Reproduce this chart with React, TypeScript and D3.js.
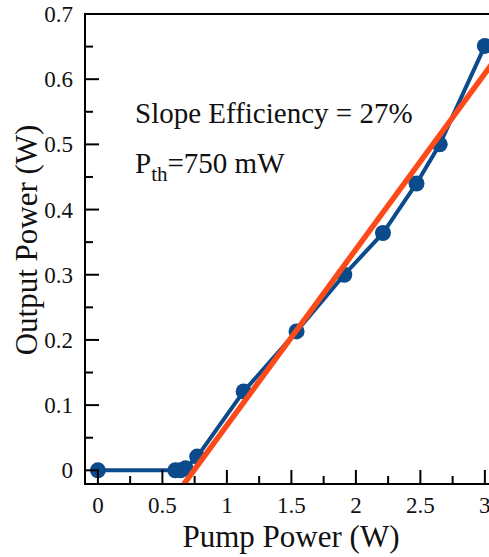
import React from "react";
import * as d3 from "d3";

const pumpPower = [0, 0.6, 0.64, 0.68, 0.77, 1.13, 1.54, 1.91, 2.21, 2.47, 2.65, 3.0];
const outputPower = [0, 0, 0, 0.003, 0.021, 0.121, 0.213, 0.3, 0.364, 0.44, 0.5, 0.651];
const fitSlope = 0.27;
const fitThreshold = 0.745;
const fitRange = [0.6, 3.2];
const xMajorTicks = [0, 0.5, 1, 1.5, 2, 2.5, 3];
const xTickLabels = ["0", "0.5", "1", "1.5", "2", "2.5", "3"];
const yMajorTicks = [0, 0.1, 0.2, 0.3, 0.4, 0.5, 0.6, 0.7];
const yTickLabels = ["0", "0.1", "0.2", "0.3", "0.4", "0.5", "0.6", "0.7"];

const W = 489;
const H = 557;
const left = 85;
const right = 489;
const top = 14;
const bottom = 484;
const FONT = "'Liberation Serif', 'Times New Roman', serif";
const BLUE = "#0b4a8b";
const ORANGE = "#fc4a1a";

export default function App() {
  const x = d3.scaleLinear().domain([-0.1, 3.032]).range([left, right]);
  const y = d3.scaleLinear().domain([-0.021, 0.7]).range([bottom, top]);
  const pts = pumpPower.map((p, i) => [p, outputPower[i]] as [number, number]);
  const line = d3
    .line<[number, number]>()
    .x((d) => x(d[0]))
    .y((d) => y(d[1]));
  const fitPts: [number, number][] = fitRange.map((p) => [p, fitSlope * (p - fitThreshold)]);
  const xMinor = d3.range(0, 3.01, 0.25).filter((v) => Math.abs(v * 2 - Math.round(v * 2)) > 1e-6);
  const yMinor = d3.range(0.05, 0.7, 0.1);

  return (
    <svg
      width={W}
      height={H}
      style={{ position: "absolute", left: 0, top: 0, background: "#fff" }}
      fontFamily={FONT}
    >
      <defs>
        <clipPath id="plotclip">
          <rect x={left} y={top} width={right - left + 10} height={bottom - top} />
        </clipPath>
      </defs>
      <g clipPath="url(#plotclip)">
        <path d={line(pts) || ""} fill="none" stroke={BLUE} strokeWidth={4} strokeLinejoin="round" />
        {pts.map((d, i) => (
          <circle key={i} cx={x(d[0])} cy={y(d[1])} r={8} fill={BLUE} />
        ))}
        <path d={line(fitPts) || ""} fill="none" stroke={ORANGE} strokeWidth={5.5} />
      </g>
      {/* axes frame */}
      <line x1={left} x2={left} y1={top} y2={bottom} stroke="#000" strokeWidth={2} />
      <line x1={left - 1} x2={right} y1={bottom} y2={bottom} stroke="#000" strokeWidth={2} />
      <line x1={left - 1} x2={right} y1={top} y2={top} stroke="#000" strokeWidth={2} />
      {/* y ticks */}
      {yMajorTicks.map((t, i) => (
        <g key={"y" + i}>
          <line x1={left} x2={left + 14} y1={y(t)} y2={y(t)} stroke="#000" strokeWidth={2} />
          <text x={left - 12} y={y(t)} dy="0.35em" textAnchor="end" fontSize={23} fill="#111">
            {yTickLabels[i]}
          </text>
        </g>
      ))}
      {yMinor.map((t, i) => (
        <line key={"ym" + i} x1={left} x2={left + 8} y1={y(t)} y2={y(t)} stroke="#000" strokeWidth={2} />
      ))}
      {/* x ticks */}
      {xMajorTicks.map((t, i) => (
        <g key={"x" + i}>
          <line x1={x(t)} x2={x(t)} y1={bottom} y2={bottom - 14} stroke="#000" strokeWidth={2} />
          <text x={x(t)} y={513} textAnchor="middle" fontSize={23} fill="#111">
            {xTickLabels[i]}
          </text>
        </g>
      ))}
      {xMinor.map((t, i) => (
        <line key={"xm" + i} x1={x(t)} x2={x(t)} y1={bottom} y2={bottom - 8} stroke="#000" strokeWidth={2} />
      ))}
      {/* titles */}
      <text x={291} y={547} textAnchor="middle" fontSize={31} fill="#111">
        Pump Power (W)
      </text>
      <text
        transform={`translate(37, 240) rotate(-90)`}
        textAnchor="middle"
        fontSize={31}
        fill="#111"
      >
        Output Power (W)
      </text>
      {/* annotations */}
      <text x={135} y={123} fontSize={29} fill="#111">
        Slope Efficiency = 27%
      </text>
      <text x={135} y={173} fontSize={29} fill="#111">
        P<tspan fontSize={21} dy={8}>th</tspan>
        <tspan dy={-8}>=750 mW</tspan>
      </text>
    </svg>
  );
}
